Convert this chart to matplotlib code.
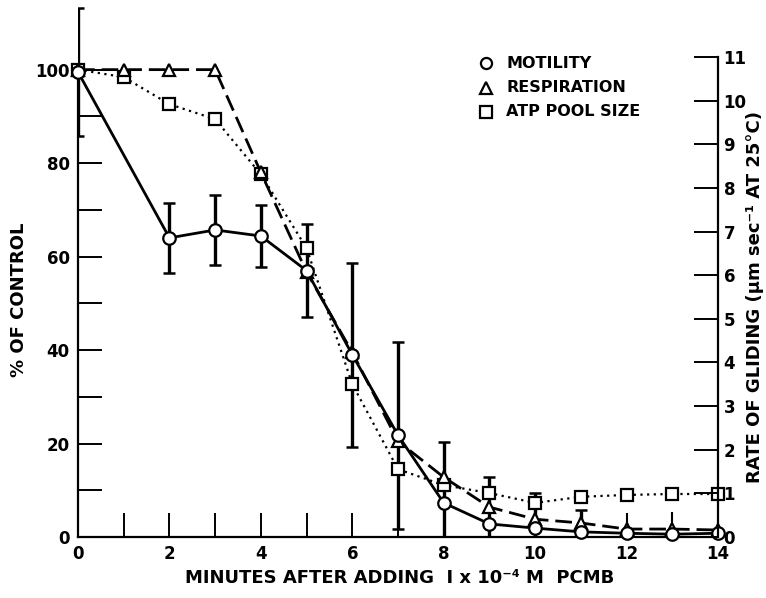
import matplotlib
matplotlib.use("Agg")
import matplotlib.pyplot as plt
import numpy as np

FONT = ['DejaVu Sans']
plt.rcParams['font.family'] = FONT
plt.rcParams['font.weight'] = 'bold'

# ---- data ----
mot_x = [0, 2, 3, 4, 5, 6, 7, 8, 9, 10, 11, 12, 13, 14]
mot_y = [99.5, 64, 65.7, 64.4, 57, 39, 21.8, 7.3, 2.8, 1.9, 1.1, 0.8, 0.6, 0.8]
mot_err = [13.7, 7.5, 7.5, 6.7, 10, 19.7, 20, 13, 10, 7.5, 4.7, 4.3, 4.7, 0]
mot_cap = [True, True, True, True, True, True, True, True, True, True, True, False, False, False]

resp_x = [0, 1, 2, 3, 4, 5, 6, 7, 8, 9, 10, 11, 12, 13, 14]
resp_y = [100, 100, 100, 100, 78, 56.7, 39.5, 20.5, 12.8, 6.4, 3.8, 3.0, 1.7, 1.7, 1.5]

atp_x = [0, 1, 2, 3, 4, 5, 6, 7, 8, 9, 10, 11, 12, 13, 14]
atp_y = [100, 98.4, 92.6, 89.4, 77.6, 61.8, 32.7, 14.5, 11.1, 9.4, 7.3, 8.6, 9.0, 9.2, 9.2]

x_ticks = list(range(0, 15))
x_labels = [str(v) if v % 2 == 0 else '' for v in x_ticks]
left_ticks = list(range(0, 101, 10))
left_labels = [str(v) if v % 20 == 0 else '' for v in left_ticks]
right_ticks = list(range(0, 12))
right_labels = [str(v) for v in right_ticks]

legend_labels = ['MOTILITY', 'RESPIRATION', 'ATP POOL SIZE']

# ---- figure ----
fig = plt.figure(figsize=(7.66, 5.98), dpi=100)
ax = fig.add_axes([78/766, 1 - 537/598, 640/766, 537/598])
YTOP = 114.9
ax.set_xlim(0, 14)
ax.set_ylim(0, YTOP)

lw = 2.0
mk = dict(markerfacecolor='white', markeredgecolor='black', markeredgewidth=1.6)

# error bars (motility)
mx = np.array(mot_x); my = np.array(mot_y); me = np.array(mot_err); mc = np.array(mot_cap)
ax.errorbar(mx[mc], my[mc], yerr=me[mc], fmt='none', ecolor='black',
            elinewidth=2.4, capsize=4, capthick=1.8, zorder=2)
ax.errorbar(mx[~mc], my[~mc], yerr=me[~mc], fmt='none', ecolor='black',
            elinewidth=1.5, capsize=0, zorder=2)

ax.plot(atp_x, atp_y, color='black', linestyle=(0, (1, 2)), linewidth=1.6,
        marker='s', markersize=8, zorder=3, clip_on=False, **mk)
ax.plot(resp_x, resp_y, color='black', linestyle=(0, (6, 2.5)), linewidth=lw,
        marker='^', markersize=9, zorder=4, clip_on=False, **mk)
ax.plot(mot_x, mot_y, color='black', linestyle='-', linewidth=lw,
        marker='o', markersize=9, zorder=5, clip_on=False, **mk)

# spines
ax.spines['top'].set_visible(False)
ax.spines['right'].set_visible(False)
ax.spines['left'].set_bounds(0, 100)
ax.spines['left'].set_linewidth(1.6)
ax.spines['bottom'].set_linewidth(1.6)

ax.set_xticks(x_ticks)
ax.set_xticklabels(x_labels)
ax.set_yticks(left_ticks)
ax.set_yticklabels(left_labels)
ax.tick_params(axis='both', direction='in', length=17, width=1.4, labelsize=12)
ax.tick_params(axis='x', pad=6)
ax.tick_params(axis='y', pad=6)

# right axis
ax2 = ax.twinx()
ax2.set_ylim(0, YTOP * 11 / 102.7)
for s in ['top', 'left', 'bottom']:
    ax2.spines[s].set_visible(False)
ax2.spines['right'].set_bounds(0, 11)
ax2.spines['right'].set_linewidth(1.6)
ax2.set_yticks(right_ticks)
ax2.set_yticklabels(right_labels)
ax2.tick_params(axis='y', direction='in', length=17, width=1.4, labelsize=12, pad=4)

# legend (manual)
mk_styles = ['o', '^', 's']
ys = [63, 88, 112]
for m, lab, yp in zip(mk_styles, legend_labels, ys):
    fig.lines.append(plt.Line2D([486/766], [1 - yp/598], transform=fig.transFigure,
                                marker=m, markersize=8, linestyle='none', **mk))
    fig.text(506/766, 1 - yp/598, lab, fontsize=11.5, va='center', ha='left')

fig.text(400/766, 1 - 578/598, 'MINUTES AFTER ADDING  I x 10⁻⁴ M  PCMB',
         fontsize=13, ha='center', va='center')
fig.text(19/766, 1 - 300/598, '% OF CONTROL', rotation=90,
         fontsize=13, ha='center', va='center')
fig.text(755/766, 1 - 297/598, 'RATE OF GLIDING (μm sec⁻¹ AT 25°C)', rotation=90,
         fontsize=13, ha='center', va='center')

fig.savefig('out.png', dpi=100)
